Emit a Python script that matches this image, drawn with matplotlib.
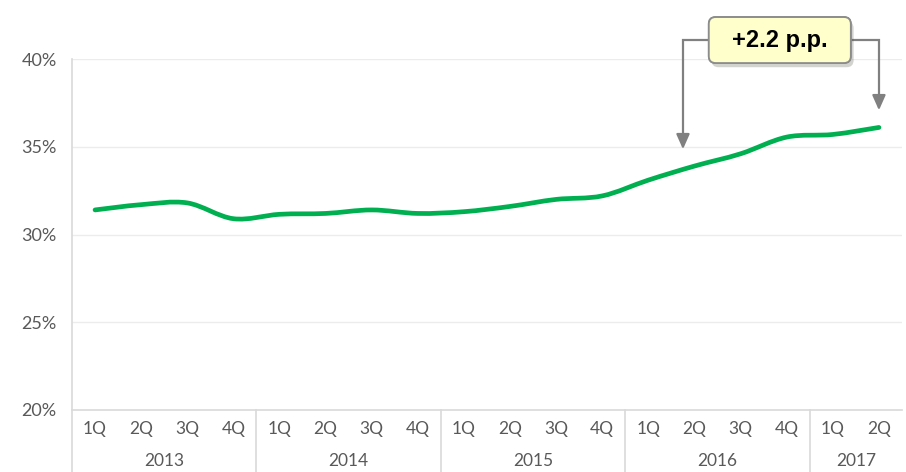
import matplotlib
matplotlib.use("Agg")
import matplotlib.pyplot as plt
import matplotlib.patheffects as pe
from matplotlib.path import Path
from matplotlib.patches import PathPatch, FancyBboxPatch
import numpy as np

plt.rcParams['font.family'] = ['Lato', 'DejaVu Sans']

years = ["2013", "2014", "2015", "2016", "2017"]
quarters_per_year = [4, 4, 4, 4, 2]
quarters = ["1Q", "2Q", "3Q", "4Q"] * 4 + ["1Q", "2Q"]
share = [31.4, 31.7, 31.8, 30.9,
         31.15, 31.2, 31.4, 31.2,
         31.3, 31.6, 32.0, 32.2,
         33.1, 33.9, 34.6, 35.55,
         35.7, 36.1]
note = "+2.2 p.p."

fig = plt.figure(figsize=(9.06, 4.72), dpi=100)
ax = fig.add_axes([72 / 906, 62 / 472, 830 / 906, 351 / 472])

x = np.arange(len(share))
y = np.array(share)

# smooth line: catmull-rom -> bezier path through the data points
verts = [(x[0], y[0])]
codes = [Path.MOVETO]
n = len(x)
for i in range(n - 1):
    p0 = np.array([x[max(i - 1, 0)], y[max(i - 1, 0)]])
    p1 = np.array([x[i], y[i]])
    p2 = np.array([x[i + 1], y[i + 1]])
    p3 = np.array([x[min(i + 2, n - 1)], y[min(i + 2, n - 1)]])
    c1 = p1 + (p2 - p0) / 6
    c2 = p2 - (p3 - p1) / 6
    verts += [tuple(c1), tuple(c2), tuple(p2)]
    codes += [Path.CURVE4] * 3
ax.add_patch(PathPatch(Path(verts, codes), fill=False, edgecolor="#00b050",
                       lw=3.4, capstyle="round", joinstyle="round", zorder=3))

ax.set_xlim(-0.5, n - 0.5)
ax.set_ylim(20, 40)
ax.set_yticks([20, 25, 30, 35, 40])
ax.set_yticklabels(["20%", "25%", "30%", "35%", "40%"])
ax.tick_params(axis="y", length=0, pad=11, labelsize=13, labelcolor="#595959")
ax.set_xticks([])
for yy in [25, 30, 35, 40]:
    ax.axhline(yy, color="#ececec", lw=1, zorder=1)
for s in ["top", "right", "left"]:
    ax.spines[s].set_visible(False)
ax.spines["bottom"].set_color("#d9d9d9")
ax.spines["bottom"].set_linewidth(1.2)

# left line running down through the category area
ax.plot([-0.5, -0.5], [-0.18, 1.0], transform=ax.get_xaxis_transform(),
        color="#d9d9d9", lw=1.2, clip_on=False)

# two-level category axis
for i, q in enumerate(quarters):
    ax.text(i, -0.055, q, transform=ax.get_xaxis_transform(), ha="center",
            va="center", fontsize=12.5, color="#595959")
start = 0
for yr, cnt in zip(years, quarters_per_year):
    ax.text(start + (cnt - 1) / 2, -0.145, yr, transform=ax.get_xaxis_transform(),
            ha="center", va="center", fontsize=12.5, color="#595959")
    start += cnt
    if start < n:
        ax.plot([start - 0.5, start - 0.5], [-0.18, 0], transform=ax.get_xaxis_transform(),
                color="#d9d9d9", lw=1.2, clip_on=False)

# bracket arrows
gray = "#808080"
ybox = 41.08
ax.plot([13.4, 12.75, 12.75], [ybox, ybox, 35.3], color=gray, lw=1.6,
        clip_on=False, zorder=4, solid_joinstyle="miter")
ax.annotate("", xy=(12.75, 34.7), xytext=(12.75, 35.6),
            arrowprops=dict(arrowstyle="-|>,head_length=0.9,head_width=0.4",
                            color=gray, lw=1.6), annotation_clip=False, zorder=4)
ax.plot([16.3, 17.0, 17.0], [ybox, ybox, 37.5], color=gray, lw=1.6,
        clip_on=False, zorder=4, solid_joinstyle="miter")
ax.annotate("", xy=(17.0, 36.92), xytext=(17.0, 37.8),
            arrowprops=dict(arrowstyle="-|>,head_length=0.9,head_width=0.4",
                            color=gray, lw=1.6), annotation_clip=False, zorder=4)

# label box
asp = 46.11 / 17.55
box = FancyBboxPatch((13.31, 39.77), 3.08, 2.62,
                     boxstyle="round,pad=0,rounding_size=0.15",
                     mutation_aspect=asp, fc="#ffffcc", ec="#8c8c8c", lw=1.3,
                     clip_on=False, zorder=5)
box.set_path_effects([pe.withSimplePatchShadow(offset=(2, -3), alpha=0.25),
                      pe.Normal()])
ax.add_patch(box)
ax.text(14.85, ybox, note, ha="center", va="center", fontsize=17,
        fontweight="bold", color="black", zorder=6,
        family=["Liberation Sans", "DejaVu Sans"])

fig.savefig("out.png", dpi=100)
